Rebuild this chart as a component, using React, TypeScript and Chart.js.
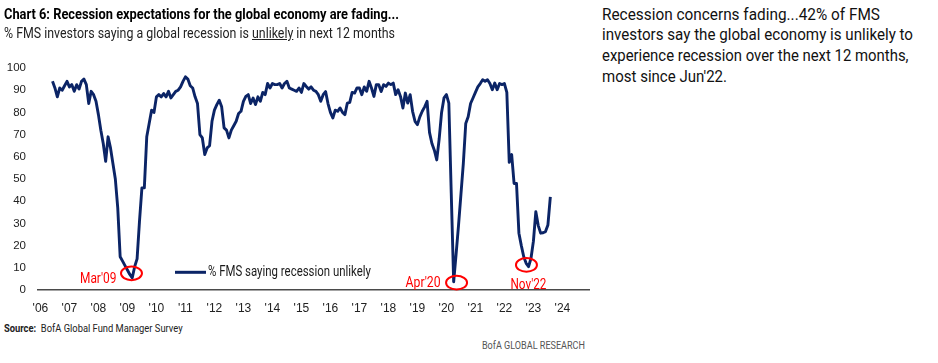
import React, { useEffect, useLayoutEffect, useRef } from "react";
import { Chart, registerables } from "chart.js";

Chart.register(...registerables);

const SANS = "Roboto, 'Liberation Sans', Arial, sans-serif";
const REGULAR = "'Liberation Sans', Arial, sans-serif";

// ---- data (monthly, % of FMS investors saying global recession unlikely) ----
const firstYear = 2006;
const firstMonth = 6; // series starts June 2006

const y2006 = [94, 91, 87, 91, 90, 92, 94];
const y2007 = [91.5, 92.5, 89.5, 92.5, 90.5, 94, 95, 92.5, 84, 89.5, 88, 85];
const y2008 = [79, 72, 66, 58, 69, 64, 57, 50, 37, 15, 13, 11];
const y2009 = [9, 7, 5.5, 10.5, 14, 31, 46, 46, 69, 75, 81, 80];
const y2010 = [87, 88, 87, 88.5, 87, 89.5, 86.5, 88, 89.5, 90, 91.5, 94];
const y2011 = [96, 95, 92, 91, 87, 84, 70, 68.5, 61, 64, 65, 76];
const y2012 = [81, 83.5, 85.5, 82.5, 73, 72, 68.5, 72, 74, 76, 79.5, 80.5];
const y2013 = [85, 87.2, 88, 84, 86.5, 83.5, 87, 85, 89, 88, 93, 91];
const y2014 = [93, 92.5, 92.5, 93, 91, 93, 94, 91, 90.5, 90, 89.5, 91];
const y2015 = [89, 93, 91.7, 90.5, 91.5, 90, 89.5, 88, 85, 88, 89.4, 84];
const y2016 = [80, 77.5, 81, 80.5, 82, 80, 79, 84.2, 84.5, 89, 88.7, 91];
const y2017 = [91, 88, 91.5, 89.5, 94, 91, 87.2, 92.5, 92.5, 89.4, 92.5, 91.7];
const y2018 = [93.2, 92.5, 93.2, 88, 90.2, 87.2, 82, 88.7, 84.2, 88, 80.5, 76];
const y2019 = [74.5, 78, 80.5, 82.5, 85, 71, 66, 63, 58.6, 68, 80, 86.5];
const y2020 = [88, 84.2, 43.6, 3.7, 16, 29, 43, 57, 75, 78, 84, 86.5];
const y2021 = [89, 91.5, 93, 94.7, 94, 94.7, 93, 90.2, 93.2, 90.2, 93, 92.5];
const y2022 = [93, 89, 57.5, 61, 48, 48, 25.6, 20, 15, 12, 10.5, 14.3];
const y2023 = [22, 35.3, 29, 25.6, 25.8, 26.3, 29.3, 42];

const yearlyValues = [
  y2006, y2007, y2008, y2009, y2010, y2011, y2012, y2013, y2014,
  y2015, y2016, y2017, y2018, y2019, y2020, y2021, y2022, y2023,
];

const tickYears = [
  2006, 2007, 2008, 2009, 2010, 2011, 2012, 2013, 2014, 2015,
  2016, 2017, 2018, 2019, 2020, 2021, 2022, 2023, 2024,
];
const tickLabels = [
  "'06", "'07", "'08", "'09", "'10", "'11", "'12", "'13", "'14", "'15",
  "'16", "'17", "'18", "'19", "'20", "'21", "'22", "'23", "'24",
];
const yTicks = [0, 10, 20, 30, 40, 50, 60, 70, 80, 90, 100];

const seriesLabel = "% FMS saying recession unlikely";

// annotated troughs (circle centre in data units: decimal year, %)
const troughLabels = ["Mar'09", "Apr'20", "Nov'22"];
const troughDates = [2009.14, 2020.35, 2022.76];
const troughValues = [7.5, 3.3, 11.3];

const rightNoteLines = [
  "Recession concerns fading...42% of FMS",
  "investors say the global economy is unlikely to",
  "experience recession over the next 12 months,",
  "most since Jun'22.",
];

// ---- styling / layout (kept apart from data) ----
const NAVY = "#0b2466";
const RED = "#ff0000";
const labelLayout = [
  { dx: -15, dy: 5.5, align: "right", w: 36.5 },
  { dx: -16, dy: 0.8, align: "right", w: 35 },
  { dx: 2, dy: 20, align: "center", w: 36 },
];
const rightNoteWidths = [278, 311, 306.5, 125];

function buildPoints() {
  const pts: { x: number; y: number }[] = [];
  yearlyValues.forEach((vals, i) => {
    const year = firstYear + i;
    const start = i === 0 ? firstMonth - 1 : 0;
    vals.forEach((v, j) => pts.push({ x: year + (start + j) / 12, y: v }));
  });
  return pts;
}

function fitText(ctx: any, text: string, x: number, y: number, w: number, align: string) {
  const actual = ctx.measureText(text).width || 1;
  ctx.save();
  ctx.translate(x, y);
  ctx.scale(w / actual, 1);
  ctx.textAlign = align;
  ctx.fillText(text, 0, 0);
  ctx.restore();
}

const overlayPlugin = {
  id: "overlay",
  afterDatasetsDraw(chart: any) {
    const { ctx, scales, chartArea } = chart;
    const xs = scales.x;
    const ys = scales.y;
    ctx.save();
    troughLabels.forEach((label, i) => {
      const cx = xs.getPixelForValue(troughDates[i]);
      const cy = ys.getPixelForValue(troughValues[i]);
      ctx.beginPath();
      ctx.ellipse(cx, cy, 10.5, 6.8, 0, 0, Math.PI * 2);
      ctx.strokeStyle = RED;
      ctx.lineWidth = 2;
      ctx.stroke();
      const o = labelLayout[i];
      ctx.fillStyle = RED;
      ctx.font = `15px ${SANS}`;
      ctx.textBaseline = "middle";
      fitText(ctx, label, cx + o.dx, cy + o.dy, o.w, o.align);
    });
    // legend inside plot
    const lx = chartArea.left + 137;
    const ly = chartArea.bottom - 17.7;
    ctx.beginPath();
    ctx.moveTo(lx, ly);
    ctx.lineTo(lx + 31, ly);
    ctx.strokeStyle = NAVY;
    ctx.lineWidth = 3;
    ctx.stroke();
    ctx.fillStyle = "#1a1a1a";
    ctx.font = `14px ${SANS}`;
    ctx.textBaseline = "middle";
    fitText(ctx, seriesLabel, lx + 33, ly + 0.5, 163, "left");
    ctx.restore();
  },
};

function Fit({ w, origin = "left", style, children }: any) {
  const ref = useRef<HTMLSpanElement | null>(null);
  useLayoutEffect(() => {
    const el = ref.current;
    if (!el) return;
    const apply = () => {
      el.style.transform = "none";
      const actual = el.getBoundingClientRect().width;
      if (actual > 0) el.style.transform = `scaleX(${w / actual})`;
    };
    apply();
    if ((document as any).fonts?.ready) (document as any).fonts.ready.then(apply);
  });
  return (
    <div style={{ position: "absolute", whiteSpace: "nowrap", ...style }}>
      <span
        ref={ref}
        style={{ display: "inline-block", whiteSpace: "nowrap", transformOrigin: origin }}
      >
        {children}
      </span>
    </div>
  );
}

function FmsChart() {
  const ref = useRef<HTMLCanvasElement | null>(null);
  useEffect(() => {
    if (!ref.current) return;
    const chart = new Chart(ref.current, {
      type: "line",
      data: {
        datasets: [
          {
            label: seriesLabel,
            data: buildPoints(),
            borderColor: NAVY,
            borderWidth: 2.9,
            pointRadius: 0,
            tension: 0,
            borderJoinStyle: "round",
            fill: false,
          },
        ],
      },
      options: {
        animation: false,
        responsive: false,
        devicePixelRatio: 1,
        layout: { padding: { left: 0, right: 11, top: 68, bottom: 0 } },
        plugins: { legend: { display: false }, tooltip: { enabled: false } },
        scales: {
          x: {
            type: "linear",
            min: 2005 + 11 / 12,
            max: 2024 + 11 / 12,
            afterBuildTicks: (s: any) => {
              s.ticks = tickYears.map((v) => ({ value: v }));
            },
            afterFit: (s: any) => {
              s.height = 30;
            },
            grid: { display: false, drawTicks: false },
            border: { display: true, color: "#4a4a4a", width: 1.5 },
            ticks: {
              autoSkip: false,
              maxRotation: 0,
              padding: 11,
              color: "#222",
              font: { family: REGULAR, size: 12 },
              callback: (_v: any, i: number) => tickLabels[i],
            },
          },
          y: {
            min: 0,
            max: 100,
            afterBuildTicks: (s: any) => {
              s.ticks = yTicks.map((v) => ({ value: v }));
            },
            afterFit: (s: any) => {
              s.width = 38;
            },
            grid: { display: false, drawTicks: false },
            border: { display: false },
            ticks: {
              padding: 12,
              color: "#222",
              font: { family: REGULAR, size: 11.5 },
            },
          },
        },
      },
      plugins: [overlayPlugin],
    });
    return () => chart.destroy();
  }, []);
  return (
    <canvas
      ref={ref}
      width={600}
      height={320}
      style={{ position: "absolute", left: 0, top: 0, width: 600, height: 320 }}
    />
  );
}

export default function App() {
  return (
    <div
      style={{
        position: "fixed",
        left: 0,
        top: 0,
        width: 938,
        height: 363,
        background: "#fff",
        overflow: "hidden",
        fontFamily: SANS,
      }}
    >
      <FmsChart />
      <Fit
        w={395}
        style={{ left: 3.5, top: 6.5, fontSize: 14.5, lineHeight: "16px", fontWeight: 700, color: "#000" }}
      >
        Chart 6: Recession expectations for the global economy are fading...
      </Fit>
      <Fit w={391} style={{ left: 4, top: 25, fontSize: 14, lineHeight: "16px", color: "#222" }}>
        % FMS investors saying a global recession is <u>unlikely</u> in next 12 months
      </Fit>
      {rightNoteLines.map((line, i) => (
        <Fit
          key={i}
          w={rightNoteWidths[i]}
          style={{ left: 601.7, top: 4.5 + i * 20.7, fontSize: 16.5, lineHeight: "20.7px", color: "#111" }}
        >
          {line}
        </Fit>
      ))}
      <Fit w={178.6} style={{ left: 3.8, top: 322, fontSize: 11, lineHeight: "14px", color: "#222" }}>
        <b>Source:</b>&nbsp; BofA Global Fund Manager Survey
      </Fit>
      <Fit
        w={103}
        origin="right"
        style={{ right: 353, top: 339, fontSize: 11, lineHeight: "14px", color: "#555" }}
      >
        BofA GLOBAL RESEARCH
      </Fit>
    </div>
  );
}
